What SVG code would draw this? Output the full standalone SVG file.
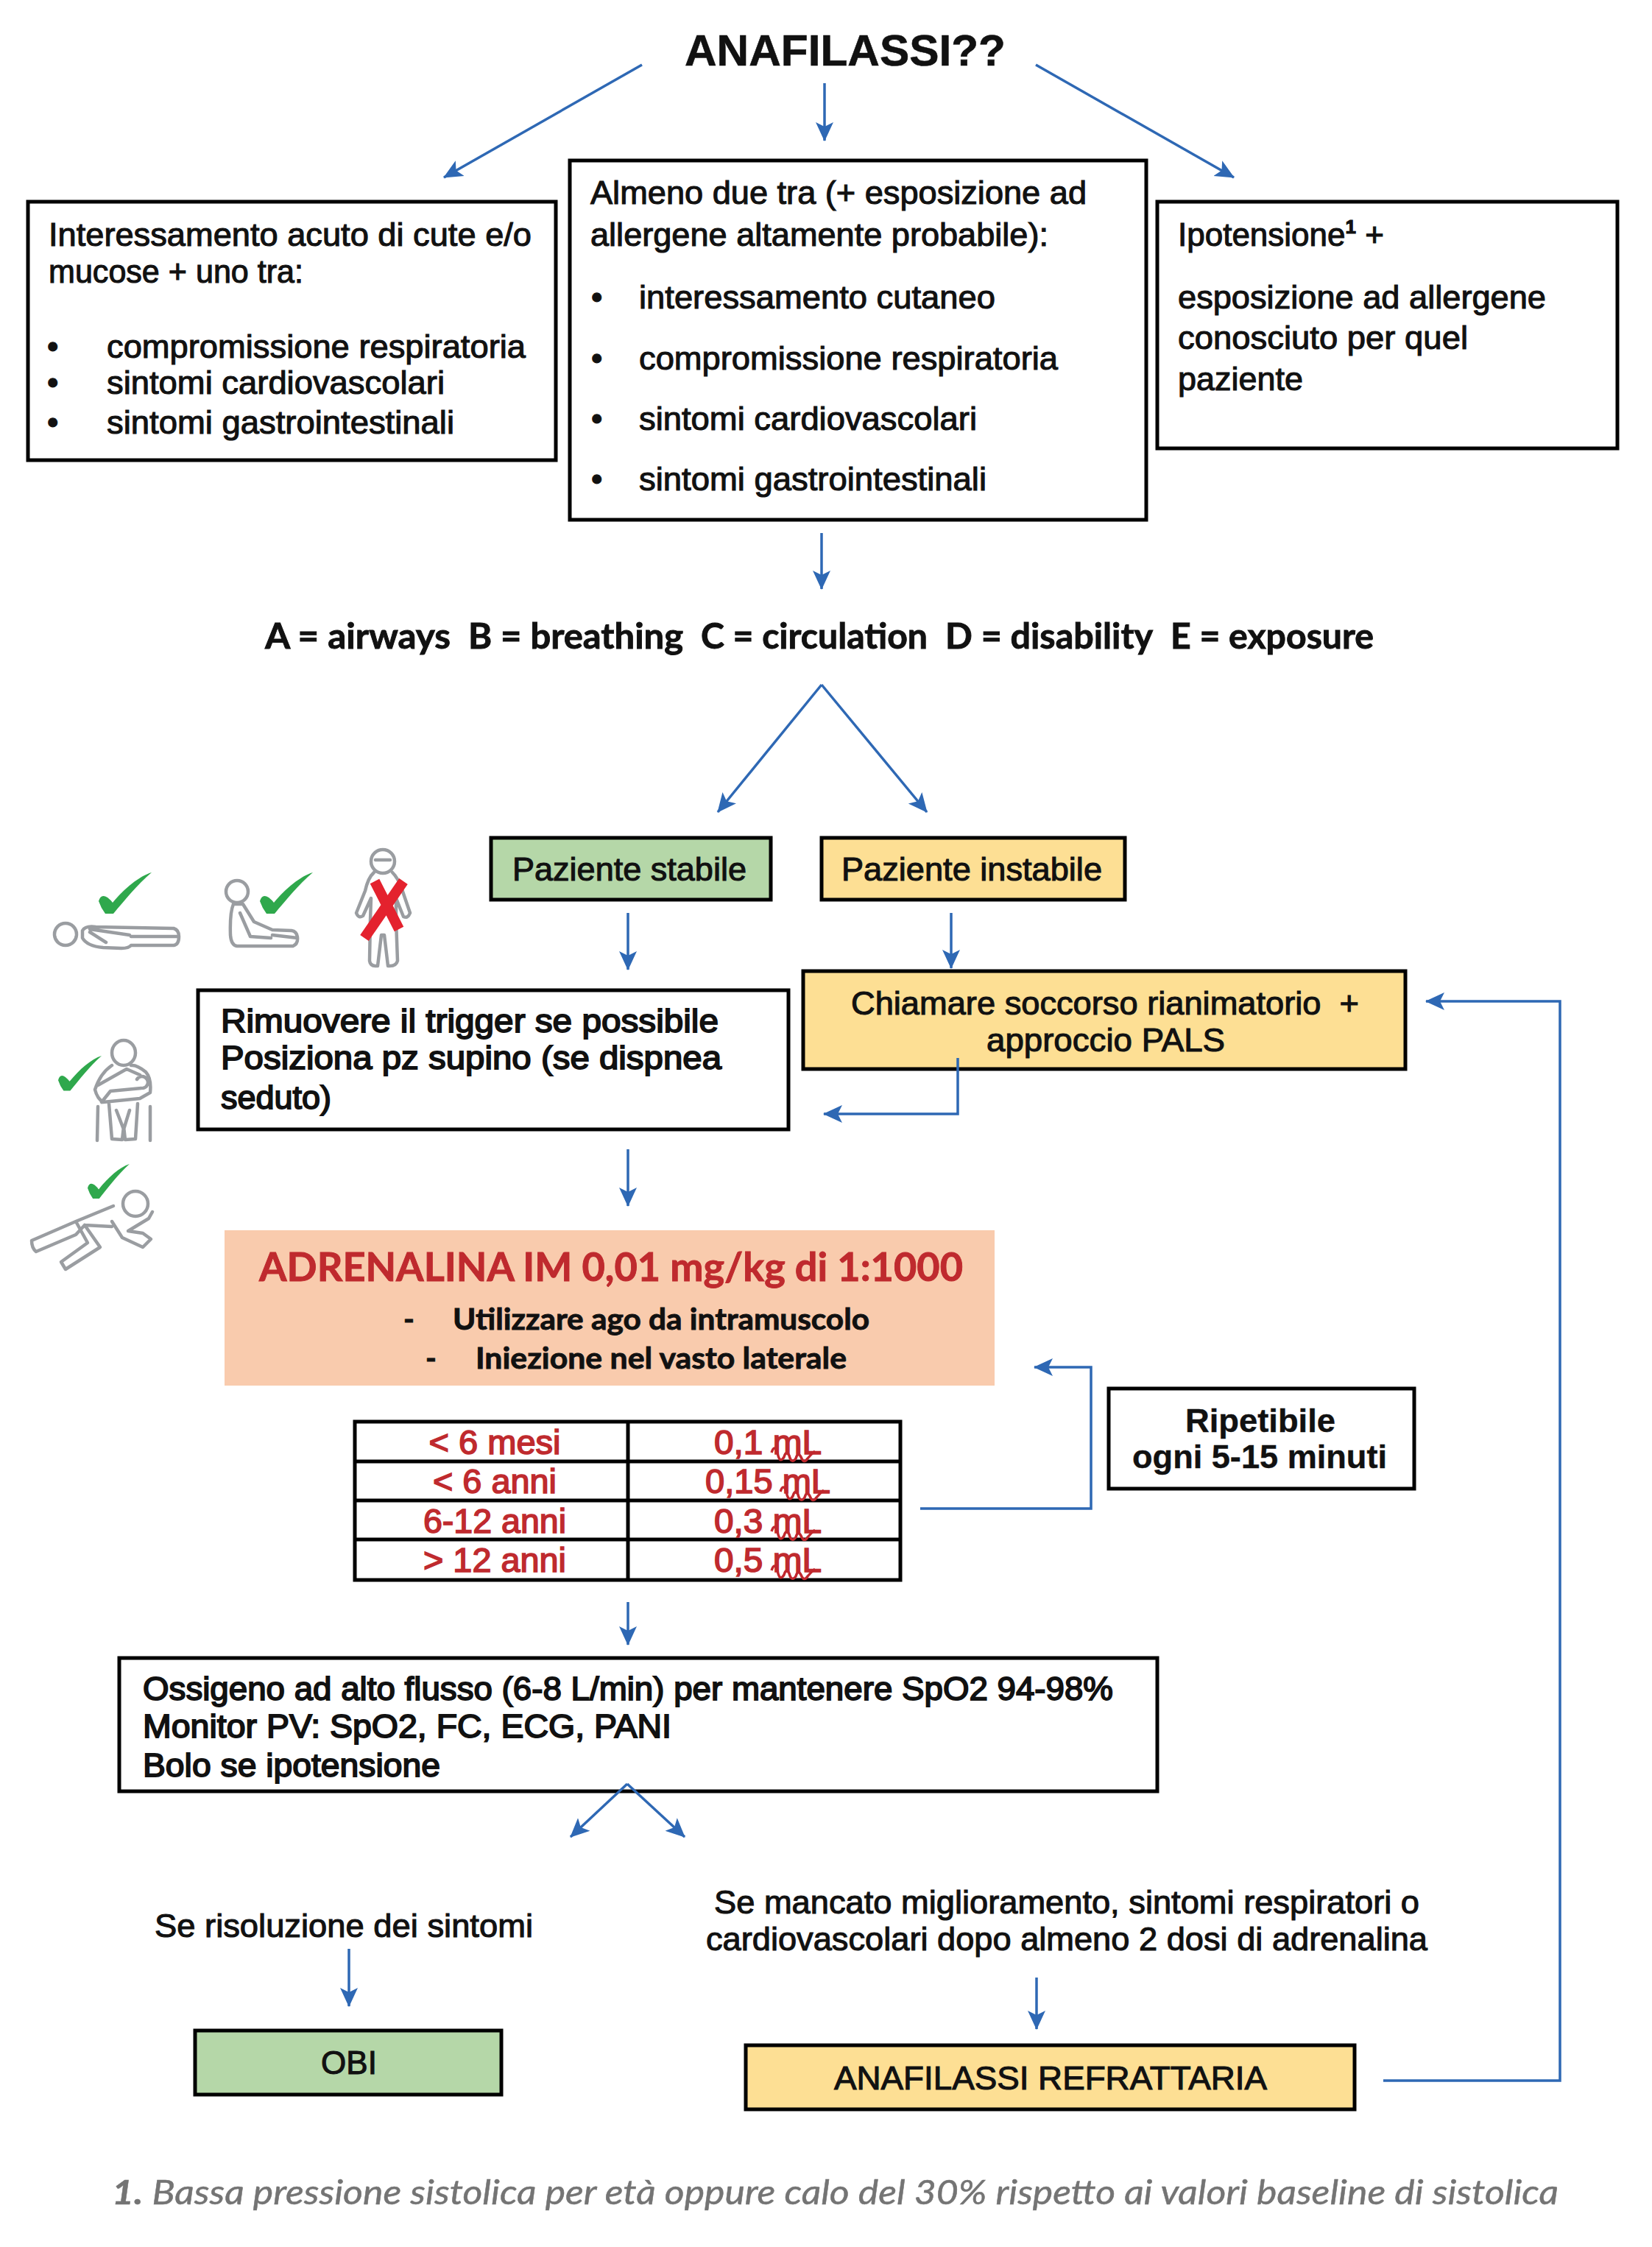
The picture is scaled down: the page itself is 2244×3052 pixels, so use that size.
<svg xmlns="http://www.w3.org/2000/svg" xmlns:xlink="http://www.w3.org/1999/xlink" width="2244" height="3052" viewBox="0 0 2244 3052">
<defs>
<marker id="ah" viewBox="0 0 26 26" refX="25" refY="13" markerWidth="26" markerHeight="26" markerUnits="userSpaceOnUse" orient="auto"><path d="M0 1 L26 13 L0 25 L6 13 Z" fill="#2e68b4"/></marker>
<path id="check" d="M0 39 Q3 28 12 34 Q17 38 19 41 C35 22 55 5 72 0 C52 17 36 37 20 56 L9 56 Q3 48 0 39 Z" fill="#2fa84c"/>
<path id="sq" d="M0 0 q4 -12 8 0 q3 16 9 6 q3 -10 7 -2 q3 12 9 4 q3 -10 7 -2 q4 10 9 2 q5 -6 10 -10" fill="none" stroke="#c0272d" stroke-width="3.5"/>
</defs>
<style>
text{font-family:"Liberation Sans",Arial,sans-serif;fill:#111}
.t{font-size:44px;stroke:#111;stroke-width:1.1}
.h{stroke-width:1.8}
.b{font-weight:700;stroke-width:.4}
.c{text-anchor:middle}
.box{fill:#fff;stroke:#000;stroke-width:5}
.g{fill:#b5d7a8}
.y{fill:#fddf94}
.o{fill:#f9cbad}
.l{font-family:Lato,"Open Sans",sans-serif;font-weight:700;stroke:#111;stroke-width:.9}
.r{fill:#bf2a2e;stroke:#bf2a2e}
.m{font-size:46px;stroke-width:1.6}
.a{fill:none;stroke:#2e68b4;stroke-width:3.5;marker-end:url(#ah)}
.i{fill:none;stroke:#9a9da1;stroke-width:4.5;stroke-linejoin:round;stroke-linecap:round}
</style>
<rect width="2244" height="3052" fill="#fff"/>

<g id="title"><text class="b c" x="1148" y="89" font-size="60" textLength="436" lengthAdjust="spacingAndGlyphs" style="stroke:#111;stroke-width:.6">ANAFILASSI??</text></g>

<g id="box-cute">
<rect class="box" x="38" y="274" width="717" height="351"/>
<text class="t" x="66" y="334" textLength="656" lengthAdjust="spacingAndGlyphs">Interessamento acuto di cute e/o</text>
<text class="t" x="66" y="384" textLength="346" lengthAdjust="spacingAndGlyphs">mucose + uno tra:</text>
<text class="t" x="64" y="486">•</text><text class="t" x="145" y="486" textLength="569" lengthAdjust="spacingAndGlyphs">compromissione respiratoria</text>
<text class="t" x="64" y="535">•</text><text class="t" x="145" y="535" textLength="459" lengthAdjust="spacingAndGlyphs">sintomi cardiovascolari</text>
<text class="t" x="64" y="589">•</text><text class="t" x="145" y="589" textLength="472" lengthAdjust="spacingAndGlyphs">sintomi gastrointestinali</text>
</g>

<g id="box-due">
<rect class="box" x="774" y="218" width="783" height="488"/>
<text class="t" x="802" y="277" textLength="674" lengthAdjust="spacingAndGlyphs">Almeno due tra (+ esposizione ad</text>
<text class="t" x="802" y="334" textLength="622" lengthAdjust="spacingAndGlyphs">allergene altamente probabile):</text>
<text class="t" x="803" y="419">•</text><text class="t" x="868" y="419" textLength="484" lengthAdjust="spacingAndGlyphs">interessamento cutaneo</text>
<text class="t" x="803" y="502">•</text><text class="t" x="868" y="502" textLength="569" lengthAdjust="spacingAndGlyphs">compromissione respiratoria</text>
<text class="t" x="803" y="584">•</text><text class="t" x="868" y="584" textLength="459" lengthAdjust="spacingAndGlyphs">sintomi cardiovascolari</text>
<text class="t" x="803" y="666">•</text><text class="t" x="868" y="666" textLength="472" lengthAdjust="spacingAndGlyphs">sintomi gastrointestinali</text>
</g>

<g id="box-ipotensione">
<rect class="box" x="1572" y="274" width="625" height="335"/>
<text class="t" x="1600" y="334">Ipotensione<tspan font-size="26" dy="-17" style="font-weight:700">1</tspan><tspan dy="17"> +</tspan></text>
<text class="t" x="1600" y="419" textLength="500" lengthAdjust="spacingAndGlyphs">esposizione ad allergene</text>
<text class="t" x="1600" y="474" textLength="394" lengthAdjust="spacingAndGlyphs">conosciuto per quel</text>
<text class="t" x="1600" y="530" textLength="170" lengthAdjust="spacingAndGlyphs">paziente</text>
</g>

<g id="abcde" font-size="48">
<text class="l" x="360" y="881" textLength="252" lengthAdjust="spacingAndGlyphs">A = airways</text>
<text class="l" x="636" y="881" textLength="292" lengthAdjust="spacingAndGlyphs">B = breathing</text>
<text class="l" x="952" y="881" textLength="308" lengthAdjust="spacingAndGlyphs">C = circulation</text>
<text class="l" x="1284" y="881" textLength="282" lengthAdjust="spacingAndGlyphs">D = disability</text>
<text class="l" x="1590" y="881" textLength="276" lengthAdjust="spacingAndGlyphs">E = exposure</text>
</g>

<g id="stabile">
<rect class="box g" x="667" y="1138" width="380" height="84"/>
<text class="t c" x="855" y="1196" textLength="318" lengthAdjust="spacingAndGlyphs">Paziente stabile</text>
</g>
<g id="instabile">
<rect class="box y" x="1116" y="1138" width="412" height="84"/>
<text class="t c" x="1320" y="1196" textLength="354" lengthAdjust="spacingAndGlyphs">Paziente instabile</text>
</g>

<g id="icons">
<use xlink:href="#check" href="#check" transform="translate(134,1185)"/>
<circle class="i" cx="89" cy="1269" r="15"/>
<path class="i" d="M112 1264 Q116 1257 130 1259 L236 1261 Q243 1263 243 1272 Q243 1283 236 1284 L178 1284 Q175 1288 165 1288 L140 1287 Q118 1285 112 1274 Z M122 1266 L144 1280 M178 1272 L242 1272 M122 1262 L176 1270"/>

<use xlink:href="#check" href="#check" transform="translate(353,1185)"/>
<circle class="i" cx="322" cy="1211" r="15"/>
<path class="i" d="M317 1228 Q312 1240 313 1270 Q314 1284 322 1285 L398 1285 Q405 1282 404 1273 Q403 1265 396 1264 L370 1263 L345 1252 L330 1228 Z M326 1240 L340 1272 L368 1274 M370 1270 L404 1274"/>

<circle class="i" cx="520" cy="1170" r="16"/>
<path class="i" d="M508 1185 Q500 1192 496 1210 L484 1240 Q487 1248 493 1244 L504 1220 L503 1250 L502 1305 Q503 1313 513 1312 L518 1270 L522 1270 L527 1312 Q538 1313 540 1305 L538 1250 L538 1220 L548 1245 Q554 1248 557 1240 L545 1205 Q540 1192 533 1185 M510 1168 L530 1168"/>
<path d="M509 1197 L542 1262 M548 1197 L495 1274" fill="none" stroke="#e4222e" stroke-width="14"/>

<use xlink:href="#check" href="#check" transform="translate(79,1434) scale(.82,.85)"/>
<ellipse class="i" cx="168" cy="1430" rx="16" ry="17"/>
<path class="i" d="M152 1447 Q136 1458 129 1480 Q132 1492 140 1497 L190 1492 L204 1484 Q206 1465 198 1456 Q186 1446 178 1447 M133 1474 L172 1452 L190 1460 M138 1497 L150 1482 L192 1478 M186 1466 a8 8 0 1 1 8 12 M133 1503 L132 1549 M204 1503 L204 1549 M148 1499 L152 1547 L166 1548 L168 1530 L170 1548 L184 1547 L187 1499 M158 1508 L168 1534 L176 1508"/>

<use xlink:href="#check" href="#check" transform="translate(119,1581) scale(.79,.84)"/>
<circle class="i" cx="184" cy="1635" r="17"/>
<path class="i" d="M154 1638 L103 1659 L43 1685 Q43 1695 49 1700 L103 1677 L115 1664 L136 1694 L89 1724 L83 1714 L119 1688 L103 1659 M115 1664 L152 1666 M152 1659 L166 1681 L194 1694 L205 1683 L194 1675 L174 1672 L202 1655 L207 1646"/>
</g>

<g id="rimuovere">
<rect class="box" x="269" y="1345" width="802" height="189"/>
<text class="t h" x="300" y="1402" textLength="676" lengthAdjust="spacingAndGlyphs">Rimuovere il trigger se possibile</text>
<text class="t h" x="300" y="1452" textLength="680" lengthAdjust="spacingAndGlyphs">Posiziona pz supino (se dispnea</text>
<text class="t h" x="300" y="1506" textLength="150" lengthAdjust="spacingAndGlyphs">seduto)</text>
</g>

<g id="chiamare">
<rect class="box y" x="1091" y="1319" width="818" height="133"/>
<text class="t c" x="1501" y="1378" xml:space="preserve" textLength="690" lengthAdjust="spacingAndGlyphs">Chiamare soccorso rianimatorio  +</text>
<text class="t c" x="1502" y="1428" textLength="324" lengthAdjust="spacingAndGlyphs">approccio PALS</text>
</g>

<g id="adrenalina">
<rect class="o" x="305" y="1671" width="1046" height="211"/>
<text class="l r" x="352" y="1740" font-size="54" textLength="956" lengthAdjust="spacingAndGlyphs">ADRENALINA IM 0,01 mg/kg di 1:1000</text>
<text class="l" x="548" y="1806" font-size="40">-</text>
<text class="l" x="615" y="1806" font-size="40" textLength="566" lengthAdjust="spacingAndGlyphs">Utilizzare ago da intramuscolo</text>
<text class="l" x="578" y="1859" font-size="40">-</text>
<text class="l" x="646" y="1859" font-size="40" textLength="504" lengthAdjust="spacingAndGlyphs">Iniezione nel vasto laterale</text>
</g>

<g id="tabella">
<rect x="482" y="1931" width="741" height="215" fill="#fff" stroke="#000" stroke-width="5"/>
<path d="M853 1931 V2146 M482 1985 H1223 M482 2038 H1223 M482 2091 H1223" stroke="#000" stroke-width="5" fill="none"/>
<text class="c r m" x="672" y="1975" textLength="179" lengthAdjust="spacingAndGlyphs">&lt; 6 mesi</text>
<text class="c r m" x="672" y="2028" textLength="168" lengthAdjust="spacingAndGlyphs">&lt; 6 anni</text>
<text class="c r m" x="672" y="2082" textLength="194" lengthAdjust="spacingAndGlyphs">6-12 anni</text>
<text class="c r m" x="672" y="2135" textLength="194" lengthAdjust="spacingAndGlyphs">&gt; 12 anni</text>
<text class="r m" x="970" y="1975" textLength="146" lengthAdjust="spacingAndGlyphs">0,1 mL</text>
<text class="r m" x="958" y="2028" textLength="170" lengthAdjust="spacingAndGlyphs">0,15 mL</text>
<text class="r m" x="970" y="2082" textLength="146" lengthAdjust="spacingAndGlyphs">0,3 mL</text>
<text class="r m" x="970" y="2135" textLength="146" lengthAdjust="spacingAndGlyphs">0,5 mL</text>
<use xlink:href="#sq" href="#sq" transform="translate(1048,1973)"/>
<use xlink:href="#sq" href="#sq" transform="translate(1060,2026)"/>
<use xlink:href="#sq" href="#sq" transform="translate(1048,2080)"/>
<use xlink:href="#sq" href="#sq" transform="translate(1048,2133)"/>
</g>

<g id="ripetibile">
<rect class="box" x="1506" y="1886" width="415" height="136"/>
<text class="t b c" x="1712" y="1945" textLength="204" lengthAdjust="spacingAndGlyphs">Ripetibile</text>
<text class="t b c" x="1711" y="1994" textLength="346" lengthAdjust="spacingAndGlyphs">ogni 5-15 minuti</text>
</g>

<g id="ossigeno">
<rect class="box" x="162" y="2252" width="1410" height="181"/>
<text class="t h" x="194" y="2309" textLength="1318" lengthAdjust="spacingAndGlyphs">Ossigeno ad alto flusso (6-8 L/min) per mantenere SpO2 94-98%</text>
<text class="t h" x="194" y="2360" textLength="718" lengthAdjust="spacingAndGlyphs">Monitor PV: SpO2, FC, ECG, PANI</text>
<text class="t h" x="194" y="2413" textLength="404" lengthAdjust="spacingAndGlyphs">Bolo se ipotensione</text>
</g>

<g id="risoluzione"><text class="t c" x="467" y="2631" textLength="514" lengthAdjust="spacingAndGlyphs">Se risoluzione dei sintomi</text></g>
<g id="mancato">
<text class="t c" x="1449" y="2599" textLength="958" lengthAdjust="spacingAndGlyphs">Se mancato miglioramento, sintomi respiratori o</text>
<text class="t c" x="1449" y="2649" textLength="980" lengthAdjust="spacingAndGlyphs">cardiovascolari dopo almeno 2 dosi di adrenalina</text>
</g>
<g id="obi">
<rect class="box g" x="265" y="2758" width="416" height="87"/>
<text class="t c" x="474" y="2817">OBI</text>
</g>
<g id="refrattaria">
<rect class="box y" x="1013" y="2778" width="827" height="87"/>
<text class="t c" x="1427" y="2838" textLength="588" lengthAdjust="spacingAndGlyphs">ANAFILASSI REFRATTARIA</text>
</g>
<g id="nota"><text x="152" y="2994" font-size="46" font-style="italic" style="font-family:Lato,'Open Sans',sans-serif;fill:#747474;stroke:#747474;stroke-width:.5" textLength="1965" lengthAdjust="spacingAndGlyphs"><tspan font-weight="700">1.</tspan> Bassa pressione sistolica per età oppure calo del 30% rispetto ai valori baseline di sistolica</text></g>

<g id="connectors">
<path class="a" d="M872 88 L603 241"/>
<path class="a" d="M1120 113 L1120 191"/>
<path class="a" d="M1407 88 L1676 241"/>
<path class="a" d="M1116 724 L1116 800"/>
<path class="a" d="M1116 930 L975 1103"/>
<path class="a" d="M1116 930 L1259 1103"/>
<path class="a" d="M853 1240 L853 1317"/>
<path class="a" d="M1292 1240 L1292 1315"/>
<path class="a" d="M1301 1437 L1301 1513 L1119 1513"/>
<path class="a" d="M853 1561 L853 1638"/>
<path class="a" d="M1250 2049 L1482 2049 L1482 1857 L1405 1857"/>
<path class="a" d="M853 2176 L853 2234"/>
<path class="a" d="M852 2423 L775 2495"/>
<path class="a" d="M852 2423 L930 2495"/>
<path class="a" d="M474 2647 L474 2725"/>
<path class="a" d="M1408 2686 L1408 2756"/>
<path class="a" d="M1879 2826 L2119 2826 L2119 1360 L1937 1360"/>
</g>
</svg>
